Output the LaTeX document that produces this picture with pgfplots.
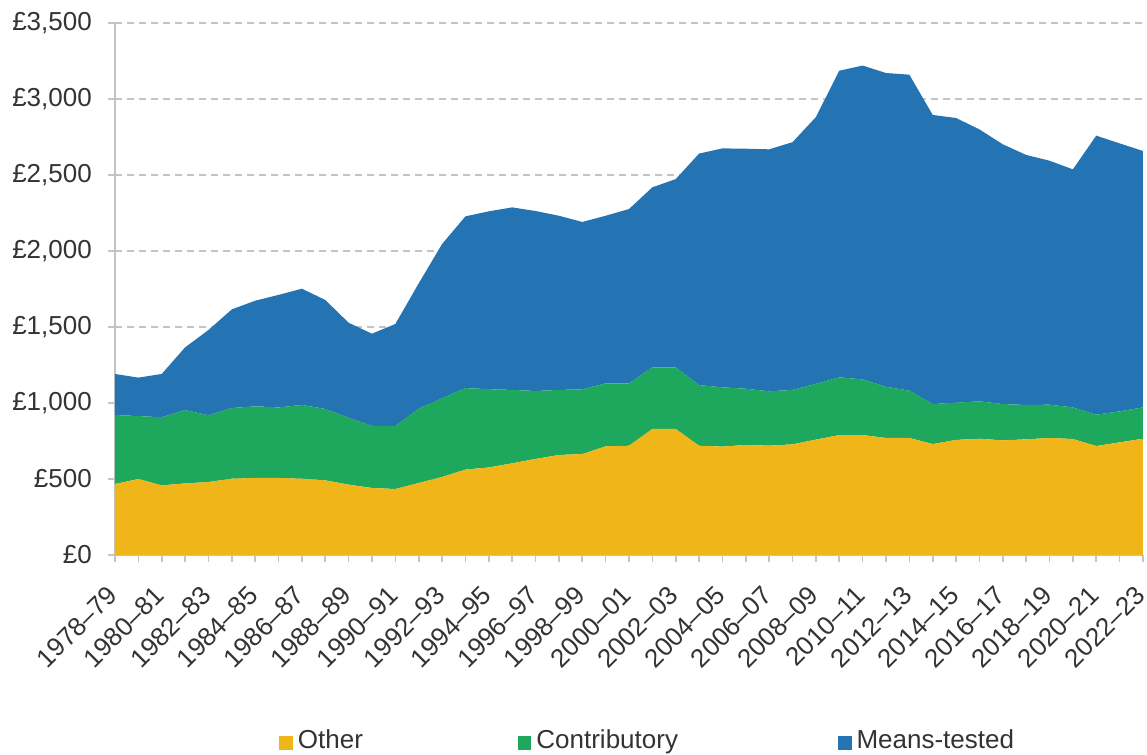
\documentclass[border=0pt]{standalone}
\usepackage{pgfplots}
\pgfplotsset{compat=1.18}
\usepackage{pgfplotstable}
\usepackage{fontspec}
\setmainfont{Liberation Sans}
\definecolor{cOther}{HTML}{F0B519}
\definecolor{cContrib}{HTML}{1DA85E}
\definecolor{cMeans}{HTML}{2474B4}
\definecolor{txt}{HTML}{333333}
\definecolor{axgray}{HTML}{C4C4C4}

\pgfplotstableread{
x other contrib means
0 467 454 270
1 500 414 253
2 458 448 285
3 471 483 412
4 480 439 561
5 502 465 649
6 507 471 695
7 507 464 740
8 502 485 765
9 491 470 717
10 463 440 625
11 441 408 607
12 434 415 671
13 474 489 824
14 513 518 1015
15 562 536 1130
16 576 515 1170
17 603 483 1201
18 632 447 1184
19 658 428 1146
20 664 426 1101
21 715 414 1103
22 719 410 1147
23 829 406 1184
24 829 406 1238
25 719 399 1523
26 713 390 1572
27 724 370 1579
28 719 358 1592
29 728 358 1630
30 759 367 1755
31 789 380 2017
32 789 366 2065
33 770 337 2064
34 770 311 2079
35 730 263 1902
36 757 245 1873
37 765 246 1789
38 754 239 1709
39 761 226 1645
40 770 219 1605
41 763 208 1566
42 717 206 1836
43 741 204 1763
44 765 206 1687
}\datatable

\begin{document}
\begin{tikzpicture}
\useasboundingbox (-115pt,-199pt) rectangle (1032pt,555pt);
\begin{axis}[
  at={(0pt,0pt)}, anchor=south west,
  scale only axis,
  width=1028pt, height=532pt,
  xmin=0, xmax=44, ymin=0, ymax=3500,
  enlargelimits=false,
  stack plots=y,
  axis x line*=bottom, axis y line*=left,
  axis line style={axgray, line width=1.6pt},
  xtick={0,2,...,44},
  minor xtick={1,3,...,43},
  xticklabels={1978–79,1980–81,1982–83,1984–85,1986–87,1988–89,1990–91,1992–93,1994–95,1996–97,1998–99,2000–01,2002–03,2004–05,2006–07,2008–09,2010–11,2012–13,2014–15,2016–17,2018–19,2020–21,2022–23},
  ytick={0,500,...,3500},
  yticklabels={£0,£500,{£1,000},{£1,500},{£2,000},{£2,500},{£3,000},{£3,500}},
  tick align=outside,
  major tick length=7pt, minor tick length=7pt,
  tick style={axgray, line width=1.6pt},
  ymajorgrids,
  major grid style={axgray, line width=1.6pt, dash pattern=on 7pt off 5pt},
  /pgf/number format/assume math mode=true,
  tick label style={font=\fontsize{26}{30}\selectfont, text=txt},
  yticklabel style={inner sep=0pt, xshift=-16pt},
  xticklabel style={xshift=-2pt, yshift=-29pt, rotate=45, anchor=east, inner sep=0pt},
  legend columns=3,
  legend style={draw=none, fill=none, at={(axis description cs:0.1568,-0.3246)}, anchor=north west,
    font=\fontsize{26}{30}\selectfont, text=txt,
    nodes={inner sep=0pt},
    /tikz/every odd column/.append style={column sep=5pt},
    /tikz/every even column/.append style={column sep=155pt}},
  legend image code/.code={\fill[#1] (0pt,-9.5pt) rectangle (13.5pt,4pt);},
]
\addplot[fill=cOther, draw=none] table[x=x, y=other] {\datatable} \closedcycle;
\addplot[fill=cContrib, draw=none] table[x=x, y=contrib] {\datatable} \closedcycle;
\addplot[fill=cMeans, draw=none] table[x=x, y=means] {\datatable} \closedcycle;
\legend{Other, Contributory\hspace*{5pt}, Means-tested}
\end{axis}
\end{tikzpicture}
\end{document}
